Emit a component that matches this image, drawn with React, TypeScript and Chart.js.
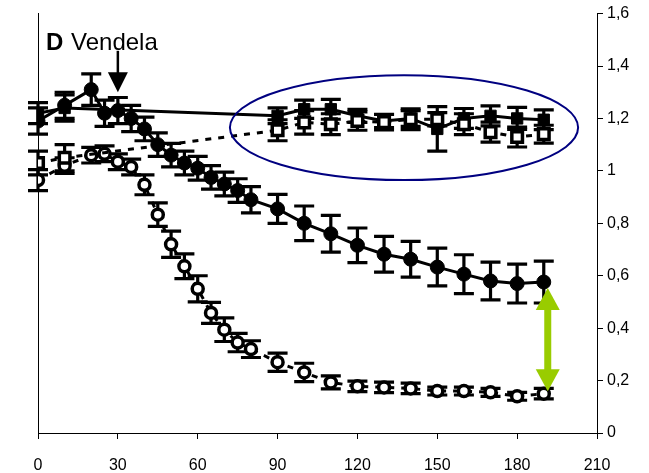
import React, { useEffect, useRef } from 'react';
import { Chart, registerables } from 'chart.js';

Chart.register(...registerables);

// ---- data ----
const treatedX = [0, 10, 20, 25, 30, 35, 40, 45, 50, 55, 60, 65, 70, 75, 80, 90, 100, 110, 120, 130, 140, 150, 160, 170, 180, 190];
const treatedFilled = [1.19, 1.25, 1.31, 1.22, 1.23, 1.2, 1.16, 1.1, 1.06, 1.03, 1.01, 0.975, 0.95, 0.925, 0.89, 0.855, 0.8, 0.76, 0.716, 0.682, 0.663, 0.633, 0.606, 0.58, 0.57, 0.576];
const treatedFilledErr = [0.05, 0.05, 0.06, 0.05, 0.05, 0.05, 0.045, 0.045, 0.045, 0.045, 0.045, 0.045, 0.045, 0.045, 0.05, 0.055, 0.066, 0.07, 0.066, 0.068, 0.068, 0.072, 0.074, 0.072, 0.074, 0.08];
const treatedOpen = [0.965, 1.02, 1.06, 1.065, 1.035, 1.015, 0.947, 0.833, 0.72, 0.636, 0.55, 0.458, 0.394, 0.345, 0.32, 0.27, 0.231, 0.193, 0.178, 0.174, 0.17, 0.16, 0.16, 0.155, 0.14, 0.15];
const treatedOpenErr = [0.04, 0.03, 0.03, 0.03, 0.03, 0.03, 0.038, 0.045, 0.05, 0.047, 0.05, 0.04, 0.045, 0.035, 0.032, 0.035, 0.035, 0.025, 0.02, 0.02, 0.02, 0.015, 0.015, 0.015, 0.015, 0.02];
const controlX = [0, 10, 90, 100, 110, 120, 130, 140, 150, 160, 170, 180, 190];
const controlFilled = [1.22, 1.24, 1.21, 1.235, 1.235, 1.21, 1.19, 1.2, 1.16, 1.2, 1.21, 1.2, 1.195];
const controlFilledErr = [0.04, 0.05, 0.03, 0.035, 0.038, 0.025, 0.025, 0.03, 0.085, 0.038, 0.038, 0.042, 0.038];
const controlOpen = [1.03, 1.05, 1.155, 1.185, 1.178, 1.19, 1.186, 1.197, 1.197, 1.178, 1.148, 1.129, 1.14];
const controlOpenErr = [0.045, 0.05, 0.04, 0.045, 0.04, 0.035, 0.03, 0.04, 0.025, 0.04, 0.038, 0.038, 0.034];
const yTickLabels = ['0', '0,2', '0,4', '0,6', '0,8', '1', '1,2', '1,4', '1,6'];
const titleBold = 'D';
const titleText = 'Vendela';

const FONT = "'Liberation Sans', Arial, sans-serif";

const pts = (xs: number[], ys: number[]) => xs.map((x, i) => ({ x, y: ys[i] }));

const errorBarPlugin = {
  id: 'errorBars',
  beforeDatasetsDraw(chart: any) {
    const ctx = chart.ctx;
    const xs = chart.scales.x;
    const ys = chart.scales.y;
    chart.data.datasets.forEach((ds: any) => {
      const errs = ds.errors;
      if (!errs) return;
      ctx.save();
      ctx.strokeStyle = '#000';
      ctx.lineWidth = 3.2;
      const cap = 10;
      ds.data.forEach((p: any, i: number) => {
        const x = xs.getPixelForValue(p.x);
        const y1 = ys.getPixelForValue(p.y + errs[i]);
        const y2 = ys.getPixelForValue(p.y - errs[i]);
        ctx.beginPath();
        ctx.moveTo(x, y1);
        ctx.lineTo(x, y2);
        ctx.moveTo(x - cap, y1);
        ctx.lineTo(x + cap, y1);
        ctx.moveTo(x - cap, y2);
        ctx.lineTo(x + cap, y2);
        ctx.stroke();
      });
      ctx.restore();
    });
  },
};

const annotationPlugin = {
  id: 'annots',
  afterDatasetsDraw(chart: any) {
    const ctx = chart.ctx;
    const xs = chart.scales.x;
    const ys = chart.scales.y;
    ctx.save();
    // ellipse
    const cx = xs.getPixelForValue(137.5);
    const cy = ys.getPixelForValue(1.165);
    const rx = xs.getPixelForValue(137.5 + 65.4) - cx;
    const ry = cy - ys.getPixelForValue(1.165 + 0.2);
    ctx.beginPath();
    ctx.ellipse(cx, cy, rx, ry, 0, 0, Math.PI * 2);
    ctx.strokeStyle = '#000080';
    ctx.lineWidth = 2;
    ctx.stroke();

    // black arrow at x=30
    const ax = xs.getPixelForValue(30);
    const aTop = ys.getPixelForValue(1.458);
    const aTip = ys.getPixelForValue(1.3);
    ctx.strokeStyle = '#000';
    ctx.fillStyle = '#000';
    ctx.lineWidth = 2.5;
    ctx.beginPath();
    ctx.moveTo(ax, aTop);
    ctx.lineTo(ax, aTip - 18);
    ctx.stroke();
    ctx.beginPath();
    ctx.moveTo(ax - 10, aTip - 20);
    ctx.lineTo(ax + 10, aTip - 20);
    ctx.lineTo(ax, aTip);
    ctx.closePath();
    ctx.fill();

    // green double arrow
    const gx = xs.getPixelForValue(191.5);
    const gTop = ys.getPixelForValue(0.553);
    const gBot = ys.getPixelForValue(0.159);
    const hl = 22;
    const hw = 12;
    ctx.fillStyle = '#99CC00';
    ctx.fillRect(gx - 3.5, gTop + hl - 1, 7, gBot - gTop - 2 * hl + 2);
    ctx.beginPath();
    ctx.moveTo(gx, gTop);
    ctx.lineTo(gx + hw, gTop + hl);
    ctx.lineTo(gx - hw, gTop + hl);
    ctx.closePath();
    ctx.fill();
    ctx.beginPath();
    ctx.moveTo(gx, gBot);
    ctx.lineTo(gx + hw, gBot - hl);
    ctx.lineTo(gx - hw, gBot - hl);
    ctx.closePath();
    ctx.fill();

    // title
    ctx.fillStyle = '#000';
    ctx.textBaseline = 'alphabetic';
    ctx.textAlign = 'left';
    ctx.font = `bold 24px ${FONT}`;
    ctx.fillText(titleBold, 46, 50);
    const w = ctx.measureText(titleBold + ' ').width;
    ctx.font = `24px ${FONT}`;
    ctx.fillText(titleText, 46 + w + 1, 50);
    ctx.restore();
  },
};

export default function App() {
  const ref = useRef<HTMLCanvasElement | null>(null);
  useEffect(() => {
    if (!ref.current) return;
    const chart = new Chart(ref.current, {
      type: 'line',
      data: {
        datasets: [
          {
            label: 'control open',
            data: pts(controlX, controlOpen),
            errors: controlOpenErr,
            borderColor: '#000',
            borderWidth: 3,
            borderDash: [6, 7],
            pointStyle: 'rect',
            pointRadius: 7.5,
            pointBackgroundColor: '#fff',
            pointBorderColor: '#000',
            pointBorderWidth: 3.5,
            yAxisID: 'y',
          } as any,
          {
            label: 'control filled',
            data: pts(controlX, controlFilled),
            errors: controlFilledErr,
            borderColor: '#000',
            borderWidth: 3,
            pointStyle: 'rect',
            pointRadius: 8,
            pointBackgroundColor: '#000',
            pointBorderColor: '#000',
            pointBorderWidth: 1,
            yAxisID: 'y',
          } as any,
          {
            label: 'treated open',
            data: pts(treatedX, treatedOpen),
            errors: treatedOpenErr,
            borderColor: '#000',
            borderWidth: 3,
            borderDash: [6, 7],
            pointStyle: 'circle',
            pointRadius: 5.5,
            pointBackgroundColor: '#fff',
            pointBorderColor: '#000',
            pointBorderWidth: 3.5,
            yAxisID: 'y',
          } as any,
          {
            label: 'treated filled',
            data: pts(treatedX, treatedFilled),
            errors: treatedFilledErr,
            borderColor: '#000',
            borderWidth: 3,
            pointStyle: 'circle',
            pointRadius: 7,
            pointBackgroundColor: '#000',
            pointBorderColor: '#000',
            pointBorderWidth: 1,
            yAxisID: 'y',
          } as any,
        ],
      },
      options: {
        animation: false,
        responsive: false,
        devicePixelRatio: 1,
        layout: { padding: { top: 10, left: 0, right: 0, bottom: 0 } },
        plugins: {
          legend: { display: false },
          tooltip: { enabled: false },
          title: { display: false },
        },
        scales: {
          x: {
            type: 'linear',
            min: 0,
            max: 210,
            afterFit: (s: any) => {
              s.height = 40;
            },
            ticks: {
              stepSize: 30,
              color: '#000',
              font: { family: FONT, size: 16 },
              padding: 17,
              maxRotation: 0,
            },
            grid: {
              display: true,
              drawOnChartArea: false,
              drawTicks: true,
              tickLength: 6,
              color: '#000',
              lineWidth: 1,
            },
            border: { display: true, color: '#000', width: 1 },
          },
          y: {
            position: 'right',
            min: 0,
            max: 1.6,
            afterFit: (s: any) => {
              s.width = 52;
            },
            ticks: {
              stepSize: 0.2,
              color: '#000',
              font: { family: FONT, size: 16 },
              padding: 4,
              callback: (_v: any, i: number) => yTickLabels[i],
            },
            grid: {
              display: true,
              drawOnChartArea: false,
              drawTicks: true,
              tickLength: 6,
              color: '#000',
              lineWidth: 1,
            },
            border: { display: true, color: '#000', width: 1 },
          },
          yl: {
            position: 'left',
            min: 0,
            max: 1.6,
            afterFit: (s: any) => {
              s.width = 38;
            },
            ticks: { display: false },
            grid: { display: false, drawTicks: false },
            border: { display: true, color: '#000', width: 1 },
          },
        },
      } as any,
      plugins: [errorBarPlugin, annotationPlugin],
    });
    return () => chart.destroy();
  }, []);
  return (
    <canvas
      ref={ref}
      width={649}
      height={473}
      style={{ position: 'absolute', left: 0, top: 0, width: 649, height: 473, display: 'block' }}
    />
  );
}
